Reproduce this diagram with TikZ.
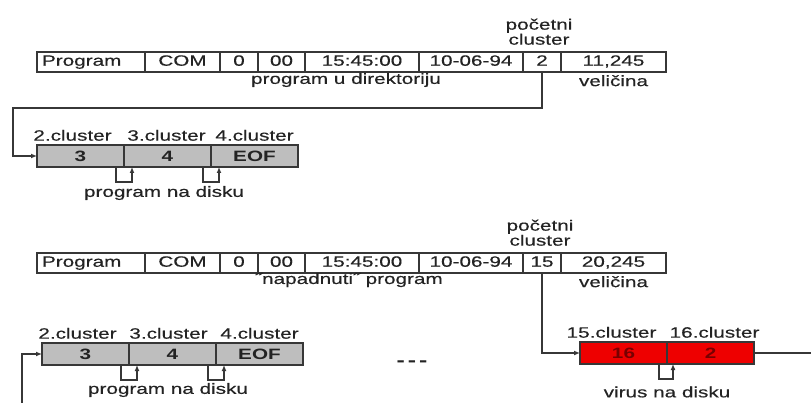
\documentclass[tikz,border=0pt]{standalone}
\usepackage{fontspec}
\setmainfont{Liberation Sans}[FakeStretch=1.38, UprightFeatures={FakeBold=0.35}]
\usetikzlibrary{positioning}
\usetikzlibrary{arrows.meta}
\usetikzlibrary{calc}
\definecolor{okvir}{RGB}{55,55,55}
\definecolor{tekst}{RGB}{35,35,35}
\definecolor{sivo}{RGB}{190,190,190}
\definecolor{crveno}{RGB}{238,0,0}
\definecolor{tamnocrveno}{RGB}{120,0,0}
\tikzstyle{line} = [draw=okvir, line width=1.2pt, -{Latex[length=6pt, width=5pt]}]

\begin{document}
\begin{tikzpicture}[x=1pt, y=-1pt,
        font=\fontsize{15}{15}\selectfont, text=tekst,
        cell/.style={draw=okvir, line width=1.2pt, minimum height=20pt,
            text height=10.5pt, text depth=3pt, inner sep=0pt, outer sep=0pt},
        cluster/.style={draw=okvir, line width=1.2pt, fill=sivo, minimum width=87pt,
            minimum height=22pt, inner sep=0pt, outer sep=0pt, font=\fontsize{15}{15}\selectfont\bfseries},
        virus/.style={cluster, fill=crveno, text=tamnocrveno},
        petlja/.style={line}]
        \useasboundingbox (0,0) rectangle (811,403);
        %% Directory entry
        \node [cell, anchor=north west, minimum width=108pt, text width=98pt, align=left] at (37,52) (d1ime) {Program};
        \node [cell, right=0pt of d1ime, minimum width=75pt] (d1ext) {COM};
        \node [cell, right=0pt of d1ext, minimum width=38pt] (d1atr) {0};
        \node [cell, right=0pt of d1atr, minimum width=47pt] (d1res) {00};
        \node [cell, right=0pt of d1res, minimum width=114pt] (d1vri) {15:45:00};
        \node [cell, right=0pt of d1vri, minimum width=104pt] (d1dat) {10-06-94};
        \node [cell, right=0pt of d1dat, minimum width=38pt] (d1poc) {2};
        \node [cell, right=0pt of d1poc, minimum width=105pt] (d1vel) {11,245};
        \node [align=center, inner sep=0pt, above=7pt of d1poc, xshift=-3pt] (d1pocl) {početni\\cluster};
        \node [inner sep=0pt] at (346,80) (d1opis) {program u direktoriju};
        \node [inner sep=0pt, below=3pt of d1vel] (d1vell) {veličina};
        %% Clusters
        \node [cluster, anchor=north west] at (37,145) (a1) {3};
        \node [cluster, right=0pt of a1] (a2) {4};
        \node [cluster, right=0pt of a2] (a3) {EOF};
        \node [inner sep=0pt, above=4pt of a1, xshift=-8pt] (a1l) {2.cluster};
        \node [inner sep=0pt, above=4pt of a2, xshift=-1pt] (a2l) {3.cluster};
        \node [inner sep=0pt, above=4pt of a3] (a3l) {4.cluster};
        \node [inner sep=0pt] at (164,193) (a0l) {program na disku};
        %% Arcs
        \coordinate (k1) at (13,108);
        \path [line] (d1poc.south) |- (k1) |- (a1.west);
        \path [petlja] ($(a1.south east)+(-8,0)$) -- ++(0,15) -| ($(a2.south west)+(8,0)$);
        \path [petlja] ($(a2.south east)+(-8,0)$) -- ++(0,15) -| ($(a3.south west)+(8,0)$);

        %% Infected directory entry
        \node [cell, anchor=north west, minimum width=108pt, text width=98pt, align=left] at (37,253) (d2ime) {Program};
        \node [cell, right=0pt of d2ime, minimum width=75pt] (d2ext) {COM};
        \node [cell, right=0pt of d2ext, minimum width=38pt] (d2atr) {0};
        \node [cell, right=0pt of d2atr, minimum width=47pt] (d2res) {00};
        \node [cell, right=0pt of d2res, minimum width=114pt] (d2vri) {15:45:00};
        \node [cell, right=0pt of d2vri, minimum width=104pt] (d2dat) {10-06-94};
        \node [cell, right=0pt of d2dat, minimum width=38pt] (d2poc) {15};
        \node [cell, right=0pt of d2poc, minimum width=105pt] (d2vel) {20,245};
        \node [align=center, inner sep=0pt, above=7pt of d2poc, xshift=-2pt] (d2pocl) {početni\\cluster};
        \node [inner sep=0pt] at (349,280) (d2opis) {˝napadnuti˝ program};
        \node [inner sep=0pt, below=3pt of d2vel] (d2vell) {veličina};
        %% Clusters
        \node [cluster, anchor=north west] at (42,343) (g1) {3};
        \node [cluster, right=0pt of g1] (g2) {4};
        \node [cluster, right=0pt of g2] (g3) {EOF};
        \node [inner sep=0pt, above=4pt of g1, xshift=-8pt] (g1l) {2.cluster};
        \node [inner sep=0pt, above=4pt of g2, xshift=-4pt] (g2l) {3.cluster};
        \node [inner sep=0pt, above=4pt of g3] (g3l) {4.cluster};
        \node [inner sep=0pt] at (168,390) (g0l) {program na disku};
        \node [inner sep=0pt, font=\fontsize{18}{18}\selectfont\bfseries] at (412,364) (tri) {-\,-\,-};
        \node [virus, anchor=north west] at (580,342) (r1) {16};
        \node [virus, right=0pt of r1] (r2) {2};
        \node [inner sep=0pt, above=4pt of r1, xshift=-12pt] (r1l) {15.cluster};
        \node [inner sep=0pt, above=4pt of r2, xshift=4pt] (r2l) {16.cluster};
        \node [inner sep=0pt] at (667,392) (r0l) {virus na disku};
        %% Arcs
        \coordinate (k2) at (22,403);
        \coordinate (k3) at (811,353);
        \path [line] (d2poc.south) |- (r1.west);
        \path [line] (k2) |- (g1.west);
        \draw [okvir, line width=1.2pt] (r2.east) -- (r2.east -| k3);
        \path [petlja] ($(g1.south east)+(-8,0)$) -- ++(0,15) -| ($(g2.south west)+(8,0)$);
        \path [petlja] ($(g2.south east)+(-8,0)$) -- ++(0,15) -| ($(g3.south west)+(8,0)$);
        \path [petlja] ($(r1.south east)+(-8,0)$) -- ++(0,15) -| ($(r2.south west)+(6,0)$);
    \end{tikzpicture}
\end{document}
